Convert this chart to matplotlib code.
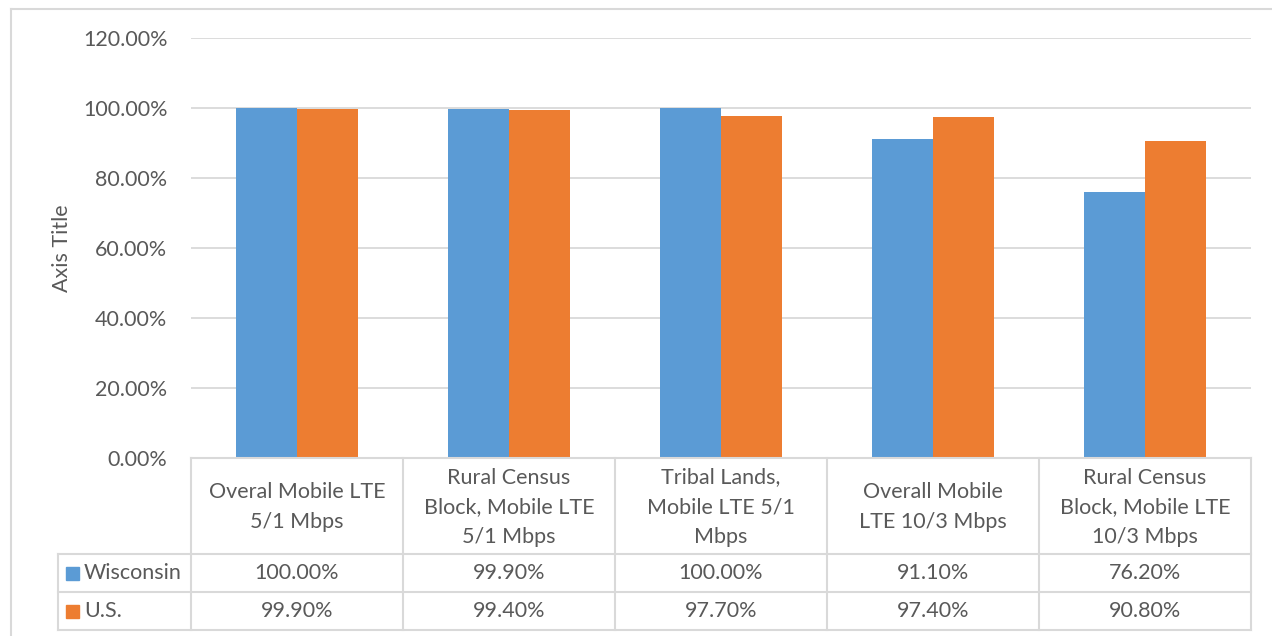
import numpy as np
import matplotlib.pyplot as plt
from matplotlib.patches import Rectangle
from matplotlib.lines import Line2D

# ── данные ───────────────────────────────────────────────────────────────────
categories = [
    "Overal Mobile LTE\n5/1 Mbps",
    "Rural Census\nBlock, Mobile LTE\n5/1 Mbps",
    "Tribal Lands,\nMobile LTE 5/1\nMbps",
    "Overall Mobile\nLTE 10/3 Mbps",
    "Rural Census\nBlock, Mobile LTE\n10/3 Mbps",
]
series_names = ["Wisconsin", "U.S."]
wisconsin = [1.000, 0.999, 1.000, 0.911, 0.762]
us = [0.999, 0.994, 0.977, 0.974, 0.908]
yticks = [0.0, 0.2, 0.4, 0.6, 0.8, 1.0, 1.2]

BLUE = "#5B9BD5"
ORANGE = "#ED7D31"
TEXT = "#595959"
GRID = "#D9D9D9"
FONT = "Lato"
FS = 15.5

plt.rcParams["font.family"] = [FONT, "DejaVu Sans"]

W, H = 1272, 636
fig = plt.figure(figsize=(W / 100, H / 100), dpi=100, facecolor="white")

# пиксельная раскладка
L, R = 191, 1251
Y0, Y1 = 458.3, 38.3
ax = fig.add_axes([L / W, (H - Y0) / H, (R - L) / W, (Y0 - Y1) / H])

n = len(categories)
x = np.arange(n)
bw = 0.2875
ax.bar(x - bw / 2, wisconsin, bw, color=BLUE, zorder=3)
ax.bar(x + bw / 2, us, bw, color=ORANGE, zorder=3)

ax.set_xlim(-0.5, n - 0.5)
ax.set_ylim(0, 1.2)
ax.set_yticks(yticks)
ax.set_yticklabels([f"{v * 100:.2f}%" for v in yticks], color=TEXT, fontsize=FS)
ax.tick_params(axis="y", length=0, pad=17)
ax.set_xticks([])
ax.yaxis.grid(True, color=GRID, linewidth=1.3, zorder=0)
for s in ax.spines.values():
    s.set_visible(False)

fig.text(62 / W, 1 - 248 / H, "Axis Title", rotation=90, ha="center",
         va="center", color=TEXT, fontsize=FS)

# ── таблица данных (пиксельные координаты) ──────────────────────────────────
ov = fig.add_axes([0, 0, 1, 1], facecolor="none")
ov.set_xlim(0, W)
ov.set_ylim(H, 0)
ov.axis("off")

colw = (R - L) / n
rows = [458.3, 554, 592, 630]
lkw = dict(color=GRID, linewidth=1.5)

# горизонтальные линии
ov.add_line(Line2D([L, R], [rows[0], rows[0]], **lkw))
for yy in rows[1:]:
    ov.add_line(Line2D([58, R], [yy, yy], **lkw))
# вертикальные линии
for i in range(n + 1):
    ov.add_line(Line2D([L + i * colw] * 2, [rows[0], rows[3]], **lkw))
ov.add_line(Line2D([58, 58], [rows[1], rows[3]], **lkw))

# заголовки столбцов
for i, c in enumerate(categories):
    ov.text(L + (i + 0.5) * colw, (rows[0] + rows[1]) / 2 + 1, c,
            ha="center", va="center", color=TEXT, fontsize=FS,
            linespacing=1.6)

# строки значений
for r, (name, vals, col) in enumerate(zip(series_names, [wisconsin, us],
                                          [BLUE, ORANGE])):
    yc = (rows[r + 1] + rows[r + 2]) / 2
    ov.add_patch(Rectangle((66, yc - 6.5), 13, 13, color=col))
    ov.text(84, yc, name, ha="left", va="center", color=TEXT, fontsize=FS)
    for i, v in enumerate(vals):
        ov.text(L + (i + 0.5) * colw, yc, f"{v * 100:.2f}%", ha="center",
                va="center", color=TEXT, fontsize=FS)

# рамка области диаграммы
ov.add_line(Line2D([11, W], [9, 9], color=GRID, linewidth=1.5))
ov.add_line(Line2D([11, 11], [9, H], color=GRID, linewidth=1.5))

plt.savefig("out.png", dpi=100, facecolor="white")
